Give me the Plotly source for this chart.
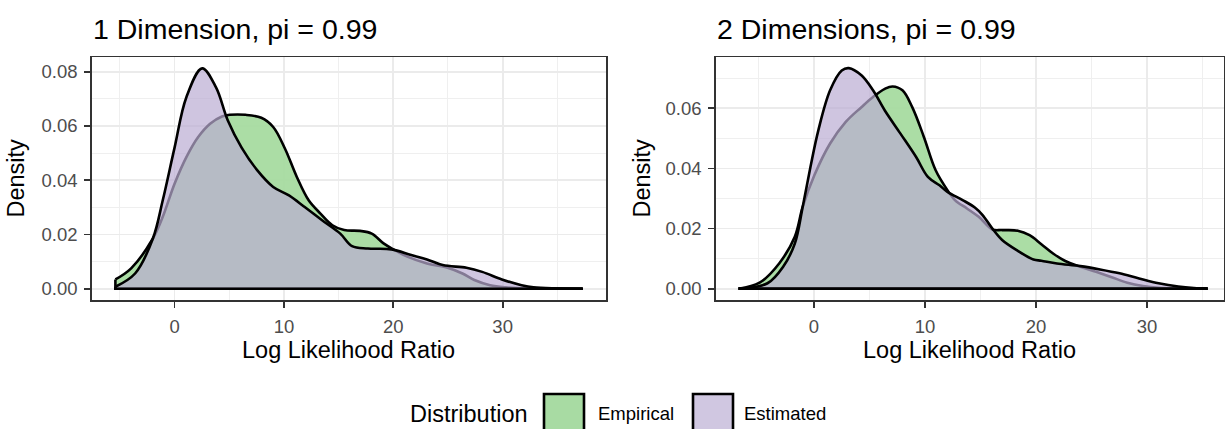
import plotly.graph_objects as go

# ---------------- data ----------------
# Panel 1: 1 Dimension, pi = 0.99
d1_emp_x = [-5.41, -3.97, -1.98, -1.08, 0.0, 1.08, 2.16, 3.25, 4.33, 5.05, 6.49, 7.93, 9.02,
            10.10, 11.18, 12.26, 13.34, 14.43, 15.51, 16.95, 18.03, 19.11, 20.01, 21.28, 23.08,
            24.88, 26.33, 27.41, 28.85, 30.29, 32.10, 37.32]
d1_emp_y = [0.0034, 0.0075, 0.0185, 0.0265, 0.0387, 0.0485, 0.0559, 0.0608, 0.0635, 0.0641,
            0.0641, 0.0630, 0.0596, 0.0516, 0.0412, 0.0326, 0.0277, 0.0234, 0.0216, 0.0213,
            0.0203, 0.0167, 0.0145, 0.0118, 0.0093, 0.0078, 0.0056, 0.0032, 0.0013, 0.0005,
            0.0001, 0.0]
d1_est_x = [-5.41, -3.61, -1.98, -1.08, 0.0, 1.08, 2.52, 3.79, 4.87, 6.13, 7.57, 9.02, 10.46,
            11.90, 13.70, 15.15, 16.23, 17.67, 19.83, 21.64, 23.08, 24.52, 26.69, 28.13, 29.93,
            31.73, 32.82, 34.62, 37.32]
d1_est_y = [0.0007, 0.0056, 0.0185, 0.0326, 0.0520, 0.0706, 0.0812, 0.0742, 0.0620, 0.0520,
            0.0436, 0.0375, 0.0344, 0.0301, 0.0246, 0.0203, 0.0157, 0.0148, 0.0145, 0.0124,
            0.0108, 0.0087, 0.0077, 0.0062, 0.0034, 0.0013, 0.0005, 0.0001, 0.0]

# Panel 2: 2 Dimensions, pi = 0.99
d2_emp_x = [-6.80, -4.90, -3.14, -1.73, -1.02, 0.04, 1.45, 2.86, 4.27, 5.32, 6.38, 7.08, 7.97,
            8.85, 9.90, 10.96, 12.02, 12.72, 13.78, 14.84, 16.07, 16.95, 18.36, 19.42, 20.48,
            21.54, 22.59, 24.00, 25.41, 26.82, 28.23, 29.64, 31.05, 33.17, 35.46]
d2_emp_y = [0.0, 0.0020, 0.0084, 0.0173, 0.0272, 0.0378, 0.0483, 0.0555, 0.0604, 0.0638, 0.0665,
            0.0673, 0.0660, 0.0604, 0.0505, 0.0394, 0.0328, 0.0294, 0.0267, 0.0239, 0.0197,
            0.0195, 0.0193, 0.0178, 0.0148, 0.0117, 0.0093, 0.0073, 0.0056, 0.0038, 0.0020,
            0.0009, 0.0003, 0.0001, 0.0]
d2_est_x = [-6.80, -4.19, -2.78, -1.73, -1.02, -0.32, 0.39, 1.45, 2.50, 3.14, 4.27, 5.32, 6.38,
            7.79, 9.20, 10.26, 11.31, 12.02, 13.43, 14.49, 15.19, 16.07, 16.95, 18.36, 19.77,
            20.48, 21.89, 24.00, 25.77, 27.53, 29.29, 31.05, 32.82, 34.23, 35.46]
d2_est_y = [0.0, 0.0018, 0.0073, 0.0150, 0.0272, 0.0405, 0.0527, 0.0660, 0.0726, 0.0734, 0.0710,
            0.0660, 0.0593, 0.0516, 0.0438, 0.0372, 0.0344, 0.0322, 0.0294, 0.0270, 0.0245,
            0.0200, 0.0162, 0.0126, 0.0097, 0.0093, 0.0084, 0.0075, 0.0064, 0.0051, 0.0034,
            0.0018, 0.0007, 0.0002, 0.0]

panel_titles = ["1 Dimension, pi = 0.99", "2 Dimensions, pi = 0.99"]
series_names = ["Empirical", "Estimated"]
x_ticks = [0, 10, 20, 30]
x_minor = [-5, 5, 15, 25, 35]
y1_ticks = [0.00, 0.02, 0.04, 0.06, 0.08]
y2_ticks = [0.00, 0.02, 0.04, 0.06]
y_minor = [0.01, 0.03, 0.05, 0.07]

# ---------------- styling ----------------
W, H = 1225, 429
FONT = "Liberation Sans, Arial, sans-serif"
FILL = {"Empirical": "rgba(166,219,160,0.95)", "Estimated": "rgba(186,172,211,0.70)"}
KEY = {"Empirical": "rgb(168,219,163)", "Estimated": "rgb(208,199,225)"}
LW = 2.6

fig = go.Figure()

panels = [
    (("x", "y"), [(d1_emp_x, d1_emp_y), (d1_est_x, d1_est_y)]),
    (("x2", "y2"), [(d2_emp_x, d2_emp_y), (d2_est_x, d2_est_y)]),
]
for (xa, ya), series in panels:
    for name, (xs, ys) in zip(series_names, series):
        fig.add_trace(go.Scatter(
            x=xs, y=ys, mode="lines", fill="tozeroy", fillcolor=FILL[name],
            line=dict(color="black", width=LW, shape="spline", smoothing=1.0),
            xaxis=xa, yaxis=ya, showlegend=False, hoverinfo="skip"))
        # closing outline of the density polygon (ends and baseline)
        fig.add_trace(go.Scatter(
            x=[xs[0], xs[0], xs[-1], xs[-1]], y=[ys[0], 0, 0, ys[-1]], mode="lines",
            line=dict(color="black", width=LW), xaxis=xa, yaxis=ya,
            showlegend=False, hoverinfo="skip"))

def xpx(p):
    return p / W

def ypx(p):
    return 1 - p / H

axis_common = dict(
    showline=True, mirror=True, linecolor="#333333", linewidth=1.8,
    ticks="outside", ticklen=6, tickwidth=1.8, tickcolor="#333333",
    showgrid=True, gridcolor="#EBEBEB", gridwidth=1.8, zeroline=False,
    tickfont=dict(family=FONT, size=18.5, color="#4D4D4D"),
    ticklabelstandoff=3,
)

fig.update_layout(
    width=W, height=H, margin=dict(l=0, r=0, t=0, b=0), autosize=False,
    paper_bgcolor="white", plot_bgcolor="white", showlegend=False,
    font=dict(family=FONT, color="black"),
    xaxis=dict(domain=[xpx(92), xpx(606)], range=[-7.55, 39.45], tickvals=x_ticks,
               anchor="y", minor=dict(tickvals=x_minor, showgrid=True, gridcolor="#EFEFEF",
                                      gridwidth=1, ticks=""), **axis_common),
    yaxis=dict(domain=[ypx(299.7), ypx(57.3)], range=[-0.00406, 0.0853], tickvals=y1_ticks,
               tickformat=".2f", anchor="x",
               minor=dict(tickvals=y_minor, showgrid=True, gridcolor="#EFEFEF",
                          gridwidth=1, ticks=""), **axis_common),
    xaxis2=dict(domain=[xpx(716), xpx(1224)], range=[-8.83, 36.94], tickvals=x_ticks,
                anchor="y2", minor=dict(tickvals=x_minor, showgrid=True, gridcolor="#EFEFEF",
                                        gridwidth=1, ticks=""), **axis_common),
    yaxis2=dict(domain=[ypx(299.7), ypx(57.3)], range=[-0.00367, 0.0770], tickvals=y2_ticks,
                tickformat=".2f", anchor="x2",
                minor=dict(tickvals=y_minor, showgrid=True, gridcolor="#EFEFEF",
                           gridwidth=1, ticks=""), **axis_common),
)

ann = []
# panel titles
for t, left in zip(panel_titles, [91, 715]):
    ann.append(dict(text=t, x=xpx(left), y=ypx(29), xref="paper", yref="paper",
                    xanchor="left", yanchor="middle", showarrow=False,
                    font=dict(family=FONT, size=28.5, color="black")))
# axis titles
for cx in [349, 970]:
    ann.append(dict(text="Log Likelihood Ratio", x=xpx(cx), y=ypx(350), xref="paper",
                    yref="paper", xanchor="center", yanchor="middle", showarrow=False,
                    font=dict(family=FONT, size=23.5, color="black")))
for cx in [16, 642]:
    ann.append(dict(text="Density", x=xpx(cx), y=ypx(178.5), xref="paper", yref="paper",
                    xanchor="center", yanchor="middle", showarrow=False, textangle=-90,
                    font=dict(family=FONT, size=23.5, color="black")))
# legend (drawn manually, ggplot style at bottom; keys run off the bottom edge as in the reference)
ann.append(dict(text="Distribution", x=xpx(408), y=ypx(413.5), xref="paper", yref="paper",
                xanchor="left", yanchor="middle", showarrow=False,
                font=dict(family=FONT, size=23.5, color="black")))
shapes = []
for name, bx, tx in zip(series_names, [544, 693], [596, 742]):
    shapes.append(dict(type="rect", xref="paper", yref="paper",
                       x0=xpx(bx), x1=xpx(bx + 40), y0=ypx(433), y1=ypx(394),
                       fillcolor=KEY[name], line=dict(color="black", width=2.6)))
    ann.append(dict(text=name, x=xpx(tx), y=ypx(413.5), xref="paper", yref="paper",
                    xanchor="left", yanchor="middle", showarrow=False,
                    font=dict(family=FONT, size=18.5, color="black")))

fig.update_layout(annotations=ann, shapes=shapes)
fig.write_html(
    "out.html",
    config={"displayModeBar": False, "staticPlot": True},
    post_script="document.body.style.margin='0';document.body.style.padding='0';"
                "document.body.style.overflow='hidden';",
)
